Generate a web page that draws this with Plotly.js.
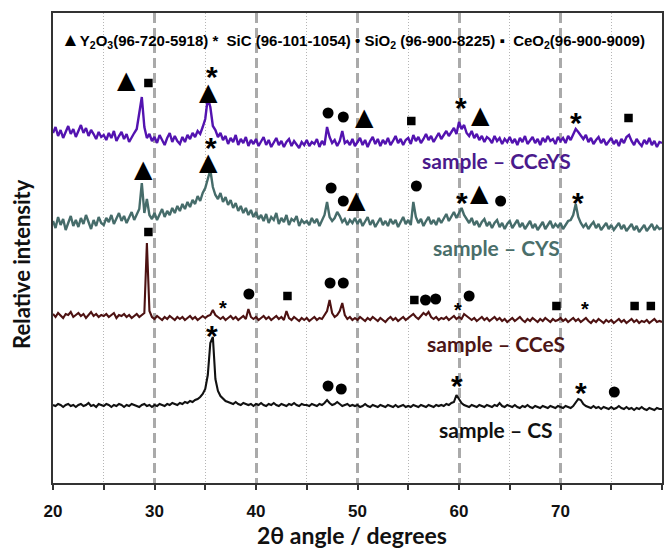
<!DOCTYPE html>
<html>
<head>
<meta charset="utf-8">
<script src="https://cdn.plot.ly/plotly-3.0.1.min.js"></script>
<style>html,body{margin:0;padding:0;background:#fff;}#chart{width:671px;height:548px;}</style>
</head>
<body>
<div id="chart"></div>
<script>
// 2θ sampling: 20° to 80°, every 0.25°
const angleStart = 20, angleStep = 0.25, angleCount = 241;

// Relative intensity (offset patterns)
const ccEYS = [
350,356,347,353,345,351,357,349,354,346,352,358,350,355,347,353,349,344,351,346,
348,343,350,345,352,342,347,351,344,349,341,346,350,354,372,386,356,345,349,342,
346,340,348,343,338,345,350,341,347,342,339,346,341,348,344,350,346,352,349,356,
364,385,376,357,353,346,350,343,347,339,345,341,348,338,344,340,346,337,343,339,
344,337,342,346,338,343,336,341,345,338,342,336,341,344,337,342,339,335,341,338,
343,337,341,339,344,336,342,338,356,346,340,343,337,342,352,340,342,338,344,337,
341,345,338,343,336,342,346,339,344,337,343,339,345,338,342,347,340,344,338,343,
345,339,348,342,346,340,344,349,343,347,341,346,350,344,348,352,347,351,355,349,
361,354,358,350,347,352,345,349,343,347,341,346,344,340,347,342,345,339,344,341,
346,340,344,338,345,341,347,339,343,346,340,344,338,345,341,347,342,344,339,346,
342,345,340,347,343,349,354,351,347,344,348,341,345,339,343,346,340,344,338,342,
345,339,343,337,344,340,346,348,342,338,344,340,337,343,339,345,338,342,336,341,
340];
const cYS = [
262,255,266,258,264,253,260,267,257,263,256,265,259,268,261,254,263,257,266,260,
258,265,261,268,259,264,270,262,267,260,265,271,263,268,274,300,270,284,268,264,
270,263,268,274,266,272,268,275,270,277,272,279,274,281,276,283,279,287,282,290,
295,303,313,296,288,284,290,281,286,278,283,275,280,272,277,270,275,268,273,266,
271,264,268,262,269,260,266,263,270,259,265,261,268,258,264,262,267,257,263,260,
262,258,265,260,264,257,263,268,281,266,262,265,271,267,261,264,258,263,260,265,
259,264,257,262,266,258,263,256,261,265,258,262,257,264,259,263,256,261,266,259,
263,258,281,266,260,264,257,262,266,259,263,258,265,260,264,269,262,267,271,265,
270,275,268,264,260,265,258,262,256,261,264,257,261,255,260,263,256,260,254,259,
262,255,259,263,256,260,254,258,262,255,259,253,257,261,254,258,262,255,259,256,
260,254,258,262,263,268,279,266,260,256,259,254,258,261,255,259,253,257,260,254,
258,253,257,260,254,258,252,256,259,253,257,251,255,258,252,256,259,253,257,254,
255];
const ccES = [
169,166,170,167,165,169,168,171,166,168,170,167,169,165,168,171,167,169,166,168,
167,169,166,168,170,165,168,167,169,166,168,165,167,169,166,168,170,240,172,166,
164,167,165,163,166,164,167,165,163,166,164,166,163,165,167,164,166,163,165,167,
165,167,168,173,168,166,164,166,163,165,167,164,166,163,165,167,164,174,166,164,
166,163,165,167,164,166,163,165,167,164,166,163,172,165,163,166,164,162,165,163,
165,162,164,166,163,165,164,168,172,183,170,166,168,172,180,168,164,166,163,165,
163,166,164,162,165,163,166,164,162,165,163,161,164,166,163,165,162,164,166,163,
165,167,169,166,164,167,170,168,171,166,164,166,163,165,164,166,163,165,167,164,
166,164,169,167,165,163,165,162,164,166,163,165,162,164,166,163,165,162,164,161,
163,165,162,164,166,163,161,164,162,165,163,161,164,162,165,163,161,164,162,163,
165,162,164,161,163,165,162,164,161,163,165,162,160,163,161,164,162,160,163,161,
163,160,162,164,161,163,160,162,164,161,163,160,162,161,163,160,162,164,161,162,
161];
const cS = [
78,77,79,78,76,78,79,77,78,76,78,79,77,78,80,77,78,76,79,78,
77,79,78,76,78,77,79,78,76,78,77,79,78,77,76,78,79,77,78,76,
78,77,79,78,77,79,78,80,79,78,80,79,81,80,82,81,83,84,86,89,
94,108,140,146,104,92,87,84,82,81,80,79,81,79,78,80,79,78,79,77,
79,78,80,78,77,79,78,80,78,77,79,78,77,79,78,80,78,77,79,78,
78,77,79,78,77,79,78,80,83,80,78,79,81,79,77,78,79,77,78,77,
78,76,77,79,77,76,78,77,76,78,77,76,78,77,76,78,76,77,78,76,
77,76,78,77,76,78,77,76,78,77,76,78,77,78,77,79,78,80,81,88,
84,80,78,77,76,78,77,76,78,77,76,78,77,76,78,77,80,77,76,78,
77,76,78,76,75,77,76,78,76,75,77,76,75,77,76,75,77,76,75,77,
76,75,77,76,75,77,80,84,83,79,77,76,75,77,75,76,74,76,75,74,
76,74,75,77,75,74,76,74,75,73,75,74,76,74,73,75,74,73,75,74,
74];

const sampleNames = ["sample \u2013 CCeYS", "sample \u2013 CYS", "sample \u2013 CCeS", "sample \u2013 CS"];

// Phase markers (angle, height)
const y2o3X = [27.2, 35.3, 50.7, 62.1, 28.9, 35.3, 49.9, 62.0];
const y2o3Y = [403, 391, 366, 368, 314, 321, 283, 290];
const sicX = [35.7, 60.2, 71.5, 35.6, 60.3, 71.7, 35.7, 59.8, 72.0];
const sicY = [414, 383, 368, 343, 288, 288, 155, 105, 98];
const sicSmallX = [36.7, 59.9, 72.4];
const sicSmallY = [180, 178, 179];
const sio2X = [47.1, 48.6, 47.4, 48.6, 55.8, 64.1, 39.3, 47.3, 48.6, 56.7, 57.7, 61.0, 47.1, 48.4, 75.3];
const sio2Y = [370, 366, 295, 282, 297, 282, 189, 200, 200, 183, 184, 187, 97, 94, 91];
const ceo2X = [29.4, 55.3, 76.7, 29.4, 43.1, 55.6, 69.6, 77.3, 78.9];
const ceo2Y = [400, 362, 365, 251, 187, 183, 177, 177, 177];

const legendText = "<span style=\"font-size:19px\">\u25B2</span>Y<sub>2</sub>O<sub>3</sub>(96-720-5918) *  SiC (96-101-1054) \u2022 SiO<sub>2</sub> (96-900-8225) \u25AA  CeO<sub>2</sub>(96-900-9009)";

// ---------- build ----------
const angles = [];
for (let i = 0; i < angleCount; i++) angles.push(+(angleStart + i * angleStep).toFixed(2));

const lineColors = ["#5313b0", "#466c6a", "#4d1212", "#111111"];
const textColors = ["#4a1a8c", "#4a6e6a", "#4d1616", "#111111"];
const lineWidths = [2.4, 2.4, 2.1, 2.1];
const series = [ccEYS, cYS, ccES, cS];
const labelY = [323, 236, 140, 54];

const traces = series.map((ys, i) => ({
  type: "scatter", mode: "lines", x: angles, y: ys,
  line: {color: lineColors[i], width: lineWidths[i]},
  hoverinfo: "skip"
}));
traces.push({type: "scatter", mode: "markers", x: sio2X, y: sio2Y,
  marker: {symbol: "circle", size: 11, color: "#000"}, hoverinfo: "skip"});
traces.push({type: "scatter", mode: "markers", x: ceo2X, y: ceo2Y,
  marker: {symbol: "square", size: 8.5, color: "#000"}, hoverinfo: "skip"});

const annotations = [];
y2o3X.forEach((x, i) => annotations.push({x, y: y2o3Y[i], xref: "x", yref: "y", text: "\u25B2",
  showarrow: false, yshift: 0, font: {family: "DejaVu Sans", size: 24, color: "#000"}}));
sicX.forEach((x, i) => annotations.push({x, y: sicY[i], xref: "x", yref: "y", text: "*",
  showarrow: false, yshift: -7, font: {family: "Liberation Sans", size: 30, color: "#000", weight: "bold"}}));
sicSmallX.forEach((x, i) => annotations.push({x, y: sicSmallY[i], xref: "x", yref: "y", text: "*",
  showarrow: false, yshift: -5, font: {family: "Liberation Sans", size: 20, color: "#000", weight: "bold"}}));
sampleNames.forEach((t, i) => annotations.push({x: 63.65, y: labelY[i], xref: "x", yref: "y", text: t,
  showarrow: false, font: {family: "Lato", size: 21, color: textColors[i], weight: "bold"}}));
annotations.push({x: 0.01, y: 0.943, xref: "paper", yref: "paper", xanchor: "left", yanchor: "middle",
  text: legendText, showarrow: false,
  font: {family: "Liberation Sans Narrow, Liberation Sans", size: 15, color: "#000", weight: "bold"}});
// axis titles
annotations.push({x: -0.051, y: 0.466, xref: "paper", yref: "paper", xanchor: "center", yanchor: "middle",
  text: "Relative intensity", textangle: -90, showarrow: false,
  font: {family: "Lato", size: 22, color: "#111", weight: "bold"}});
annotations.push({x: 0.491, y: -0.111, xref: "paper", yref: "paper", xanchor: "center", yanchor: "middle",
  text: "2\u03B8 angle / degrees", showarrow: false,
  font: {family: "Lato", size: 23, color: "#111", weight: "bold"}});

const layout = {
  width: 671, height: 548,
  margin: {l: 53, r: 9, t: 13, b: 65},
  paper_bgcolor: "#fff", plot_bgcolor: "#fff",
  showlegend: false,
  xaxis: {
    range: [20, 80], tick0: 20, dtick: 10, ticks: "outside", ticklen: 5, tickwidth: 2, tickcolor: "#333",
    showline: true, linewidth: 2, linecolor: "#333", mirror: true, zeroline: false,
    showgrid: true, gridcolor: "#aaaaaa", gridwidth: 3, griddash: "10px,5px",
    minor: {dtick: 5, ticks: "outside", ticklen: 5, tickwidth: 2, tickcolor: "#333",
            showgrid: true, gridcolor: "#b5b5b5", gridwidth: 1, griddash: "1px,2px"},
    ticklabelstandoff: 7,
    tickfont: {family: "Liberation Sans Narrow, Liberation Sans", size: 17, color: "#111", weight: "bold"},
    automargin: false
  },
  yaxis: {
    range: [0, 470], showticklabels: false, ticks: "", showgrid: false, zeroline: false,
    showline: true, linewidth: 2, linecolor: "#333", mirror: true,
    automargin: false
  },
  annotations
};

Plotly.newPlot("chart", traces, layout, {staticPlot: true, displayModeBar: false});
</script>
</body>
</html>
